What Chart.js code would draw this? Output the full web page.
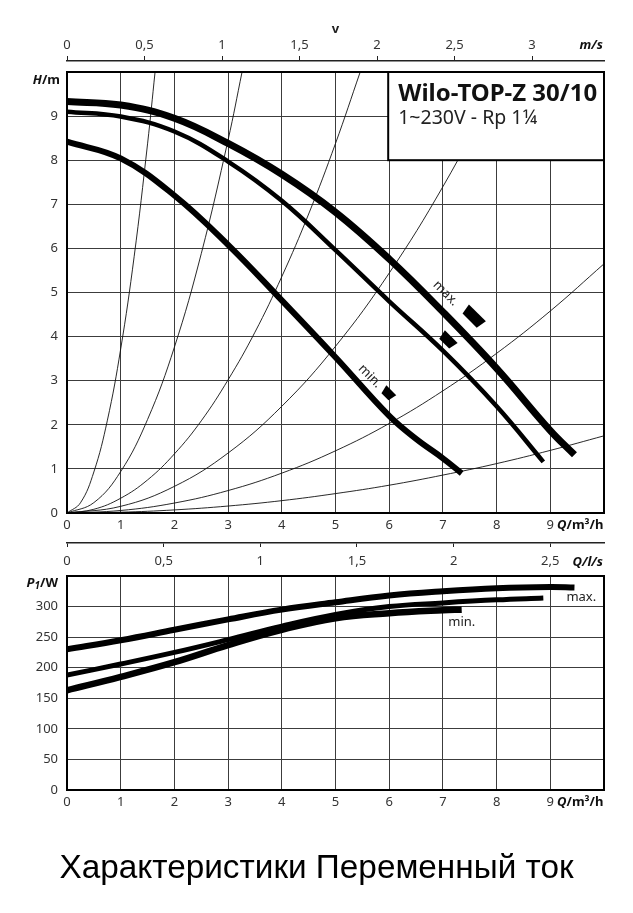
<!DOCTYPE html>
<html>
<head>
<meta charset="utf-8">
<script src="https://cdn.jsdelivr.net/npm/chart.js@4.4.0/dist/chart.umd.min.js"></script>
<style>
html,body{margin:0;padding:0;background:#fff;width:633px;height:913px;overflow:hidden;}
canvas{position:absolute;left:0;top:0;}
#title{position:absolute;left:0;top:850px;width:633px;text-align:center;font-family:"Liberation Sans",Arial,sans-serif;font-size:31px;line-height:34px;color:#000;white-space:nowrap;}
</style>
</head>
<body>
<canvas id="vAxis" width="633" height="913"></canvas>
<canvas id="hChart" width="633" height="913"></canvas>
<canvas id="lsAxis" width="633" height="913"></canvas>
<canvas id="pChart" width="633" height="913"></canvas>
<div id="title">Характеристики Переменный ток</div>
<script>
// ---------- data ----------
// Pump head curves, Q in m³/h, H in m
const flowMax = [0, 1, 2, 3, 4, 5, 6, 7, 8, 9, 9.45];
const headMax = [9.33, 9.25, 8.95, 8.38, 7.68, 6.82, 5.76, 4.56, 3.28, 1.87, 1.32];
const flowMid = [0, 1, 2, 3, 4, 5, 6, 7, 8, 8.87];
const headMid = [9.1, 8.99, 8.65, 7.97, 7.08, 5.96, 4.8, 3.68, 2.42, 1.16];
const flowMin = [0, 1, 2, 3, 4, 5, 6, 6.5, 7, 7.35];
const headMin = [8.42, 8.04, 7.2, 6.08, 4.82, 3.53, 2.2, 1.68, 1.24, 0.9];

// System (pipe) curves – thin lines
const sysFlowA = [0, 0.25, 0.5, 0.75, 1, 1.25, 1.5, 1.64];
const sysHeadA = [0, 0.23, 0.93, 2.09, 3.72, 5.81, 8.37, 10];
const sysFlowB = [0, 0.5, 1, 1.5, 2, 2.5, 3, 3.26];
const sysHeadB = [0, 0.235, 0.94, 2.12, 3.76, 5.88, 8.46, 10];
const sysFlowC = [0, 0.5, 1, 1.5, 2, 2.5, 3, 3.5, 4, 4.5, 5, 5.46];
const sysHeadC = [0, 0.084, 0.335, 0.75, 1.34, 2.09, 3.02, 4.1, 5.36, 6.78, 8.38, 10];
const sysFlowD = [0, 1, 2, 3, 4, 5, 6, 7, 8, 8.14];
const sysHeadD = [0, 0.151, 0.604, 1.36, 2.42, 3.78, 5.44, 7.4, 9.66, 10];
const sysFlowE = [0, 1, 2, 3, 4, 5, 6, 7, 8, 9, 10];
const sysHeadE = [0, 0.057, 0.226, 0.509, 0.904, 1.41, 2.03, 2.77, 3.62, 4.58, 5.65];
const sysFlowF = [0, 1, 2, 3, 4, 5, 6, 7, 8, 9, 10];
const sysHeadF = [0, 0.018, 0.07, 0.158, 0.28, 0.44, 0.63, 0.86, 1.12, 1.42, 1.75];

// Power input curves, P1 in W
const pFlowMax = [0, 1, 2, 3, 4, 5, 6, 7, 8, 9, 9.45];
const powerMax = [230, 245, 262, 279, 295, 307, 318, 325, 330, 332, 331];
const pFlowMid = [0, 1, 2, 3, 4, 5, 6, 7, 8, 8.87];
const powerMid = [188, 206, 225, 246, 268, 287, 300, 306, 311, 314];
const pFlowMin = [0, 1, 2, 3, 4, 5, 6, 7, 7.35];
const powerMin = [163, 185, 209, 237, 262, 281, 289, 294, 295];

// Axis ranges / tick labels
const flowAxisMax = 10;        // m³/h
const headAxisMax = 10;        // m
const powerAxisMax = 350;      // W
const velocityAxisMax = 3.464; // m/s at 10 m³/h
const litreAxisMax = 2.7778;   // l/s at 10 m³/h
const boxTitle = 'Wilo-TOP-Z 30/10';
const boxSubtitle = '1~230V - Rp 1¼';

// ---------- helpers ----------
const FONT = "'Noto Sans','Open Sans','DejaVu Sans',sans-serif";
const tickFont = {family: FONT, size: 13};
const tickColor = '#333';
const gridColor = '#3c3c3c';
const comma = v => String(Math.round(v * 100) / 100).replace('.', ',');
const pts = (xs, ys) => xs.map((x, i) => ({x: x, y: ys[i]}));

function thin(xs, ys) {
  return {data: pts(xs, ys), showLine: true, borderColor: '#111', borderWidth: 0.9,
    pointRadius: 0, tension: 0.4, order: 3};
}
function thick(xs, ys, w) {
  return {data: pts(xs, ys), showLine: true, borderColor: '#000', borderWidth: w,
    borderCapStyle: 'butt', pointRadius: 0, tension: 0.4, order: 1};
}
function rich(ctx, parts, x, y, align) {
  let w = 0;
  parts.forEach(p => { ctx.font = p.f; p.w = ctx.measureText(p.t).width; w += p.w; });
  let cx = align === 'right' ? x - w : x;
  ctx.textAlign = 'left';
  ctx.textBaseline = 'middle';
  parts.forEach(p => { ctx.font = p.f; ctx.fillText(p.t, cx, y + (p.dy || 0)); cx += p.w; });
}
const BI = "italic bold 13px " + FONT;
const B = "bold 13px " + FONT;

const framePlugin = {
  id: 'frame',
  afterDraw(chart) {
    const {ctx, chartArea: a} = chart;
    ctx.save();
    ctx.strokeStyle = '#000';
    ctx.lineWidth = 2;
    ctx.strokeRect(a.left, a.top, a.right - a.left, a.bottom - a.top);
    ctx.restore();
  }
};

const baseOpts = (padding) => ({
  responsive: false, animation: false, events: [],
  layout: {padding: padding},
  plugins: {legend: {display: false}, tooltip: {enabled: false}}
});

// ---------- v axis (m/s) ----------
new Chart(document.getElementById('vAxis'), {
  type: 'scatter',
  data: {datasets: []},
  options: Object.assign(baseOpts({top: 0, left: 67, right: 29, bottom: 913 - 64}), {
    scales: {
      x: {
        type: 'linear', position: 'top', min: 0, max: velocityAxisMax,
        ticks: {stepSize: 0.5, includeBounds: false, font: tickFont, color: tickColor, padding: 3,
          maxRotation: 0, autoSkip: false, callback: v => comma(v)},
        grid: {drawOnChartArea: false, drawTicks: true, tickLength: 5, color: '#222', lineWidth: 1},
        border: {display: true, color: '#222', width: 1.5},
        title: {display: true, text: 'v', color: '#222', font: {family: FONT, size: 13, weight: 'bold'},
          padding: {top: 21, bottom: 0}},
        afterFit: s => { s.height = 61; }
      },
      y: {display: false}
    }
  }),
  plugins: [{
    id: 'vunit',
    afterDraw(chart) {
      const ctx = chart.ctx;
      ctx.save(); ctx.fillStyle = '#111';
      rich(ctx, [{t: 'm/s', f: BI}], 603, 45, 'right');
      ctx.restore();
    }
  }]
});

// ---------- H-Q chart ----------
new Chart(document.getElementById('hChart'), {
  type: 'scatter',
  data: {datasets: [
    thin(sysFlowA, sysHeadA), thin(sysFlowB, sysHeadB), thin(sysFlowC, sysHeadC),
    thin(sysFlowD, sysHeadD), thin(sysFlowE, sysHeadE), thin(sysFlowF, sysHeadF),
    thick(flowMax, headMax, 7), thick(flowMid, headMid, 4.5), thick(flowMin, headMin, 6)
  ]},
  options: Object.assign(baseOpts({top: 72, left: 0, right: 29, bottom: 913 - 513 - 27}), {
    scales: {
      x: {
        type: 'linear', position: 'bottom', min: 0, max: flowAxisMax,
        ticks: {stepSize: 1, font: tickFont, color: tickColor, padding: 4, maxRotation: 0, autoSkip: false,
          callback: v => v === flowAxisMax ? '' : comma(v)},
        grid: {color: gridColor, lineWidth: 1, drawTicks: false},
        border: {color: '#000', width: 2},
        afterFit: s => { s.height = 27; }
      },
      y: {
        type: 'linear', min: 0, max: headAxisMax,
        ticks: {stepSize: 1, font: tickFont, color: tickColor, padding: 9,
          callback: v => v === headAxisMax ? '' : comma(v)},
        grid: {color: gridColor, lineWidth: 1, drawTicks: false},
        border: {color: '#000', width: 2},
        afterFit: s => { s.width = 67; }
      }
    }
  }),
  plugins: [framePlugin, {
    id: 'hDecor',
    afterDatasetsDraw(chart) {
      const {ctx, chartArea: a, scales: {x, y}} = chart;
      ctx.save();
      // info box
      const bx = x.getPixelForValue(6) - 1, by = a.top;
      const bw = a.right - bx, bh = y.getPixelForValue(8) - by;
      ctx.fillStyle = '#fff';
      ctx.fillRect(bx, by, bw, bh);
      ctx.strokeStyle = '#000'; ctx.lineWidth = 2;
      ctx.strokeRect(bx, by, bw, bh);
      ctx.fillStyle = '#111';
      ctx.textAlign = 'left'; ctx.textBaseline = 'alphabetic';
      ctx.font = "bold 22px " + FONT;
      let s1 = 22 * 199 / ctx.measureText(boxTitle).width;
      ctx.font = "bold " + s1.toFixed(2) + "px " + FONT;
      ctx.fillText(boxTitle, bx + 10, by + 29);
      ctx.font = "15px " + FONT;
      let s2 = 15 * 139 / ctx.measureText(boxSubtitle).width;
      ctx.font = s2.toFixed(2) + "px " + FONT;
      ctx.fillStyle = '#222';
      ctx.fillText(boxSubtitle, bx + 10, by + 52);

      // direction markers
      const mark = (q, h, len, wid) => {
        const px = x.getPixelForValue(q), py = y.getPixelForValue(h);
        ctx.save();
        ctx.translate(px, py);
        ctx.rotate(45 * Math.PI / 180);
        ctx.fillStyle = '#000';
        ctx.beginPath();
        ctx.moveTo(-len / 2, -wid / 2);
        ctx.lineTo(len / 2, -wid / 2);
        ctx.lineTo(len / 2 - 2, wid / 2);
        ctx.lineTo(-len / 2 + 2, wid / 2);
        ctx.closePath();
        ctx.fill();
        ctx.restore();
      };
      mark(7.57, 4.45, 24, 11);
      mark(7.09, 3.92, 18, 10);
      mark(5.98, 2.71, 14, 9);

      // max. / min. labels
      const lbl = (t, q, h) => {
        ctx.save();
        ctx.translate(x.getPixelForValue(q), y.getPixelForValue(h));
        ctx.rotate(45 * Math.PI / 180);
        ctx.font = "13px " + FONT;
        ctx.fillStyle = '#222';
        ctx.textAlign = 'center'; ctx.textBaseline = 'middle';
        ctx.fillText(t, 0, 0);
        ctx.restore();
      };
      lbl('max.', 7.05, 4.98);
      lbl('min.', 5.64, 3.1);
      ctx.restore();
    },
    afterDraw(chart) {
      const ctx = chart.ctx;
      ctx.save(); ctx.fillStyle = '#111';
      rich(ctx, [{t: 'H', f: BI}, {t: '/m', f: B}], 60, 80, 'right');
      rich(ctx, [{t: 'Q', f: BI}, {t: '/m³/h', f: B}], 557, 525, 'left');
      ctx.restore();
    }
  }]
});

// ---------- Q l/s axis ----------
new Chart(document.getElementById('lsAxis'), {
  type: 'scatter',
  data: {datasets: []},
  options: Object.assign(baseOpts({top: 540, left: 67, right: 29, bottom: 913 - 543 - 30}), {
    scales: {
      x: {
        type: 'linear', position: 'bottom', min: 0, max: litreAxisMax,
        ticks: {stepSize: 0.5, includeBounds: false, font: tickFont, color: tickColor, padding: 6,
          maxRotation: 0, autoSkip: false, callback: v => comma(v)},
        grid: {drawOnChartArea: false, drawTicks: true, tickLength: 4, color: '#222', lineWidth: 1},
        border: {display: true, color: '#222', width: 1.5},
        afterFit: s => { s.height = 30; }
      },
      y: {display: false}
    }
  }),
  plugins: [{
    id: 'lsunit',
    afterDraw(chart) {
      const ctx = chart.ctx;
      ctx.save(); ctx.fillStyle = '#111';
      rich(ctx, [{t: 'Q', f: BI}, {t: '/l/s', f: BI}], 603, 562, 'right');
      ctx.restore();
    }
  }]
});

// ---------- P1-Q chart ----------
new Chart(document.getElementById('pChart'), {
  type: 'scatter',
  data: {datasets: [
    thick(pFlowMax, powerMax, 6), thick(pFlowMid, powerMid, 5), thick(pFlowMin, powerMin, 6.5)
  ]},
  options: Object.assign(baseOpts({top: 576, left: 0, right: 29, bottom: 913 - 790 - 30}), {
    scales: {
      x: {
        type: 'linear', position: 'bottom', min: 0, max: flowAxisMax,
        ticks: {stepSize: 1, font: tickFont, color: tickColor, padding: 4, maxRotation: 0, autoSkip: false,
          callback: v => v === flowAxisMax ? '' : comma(v)},
        grid: {color: gridColor, lineWidth: 1, drawTicks: false},
        border: {color: '#000', width: 2},
        afterFit: s => { s.height = 30; }
      },
      y: {
        type: 'linear', min: 0, max: powerAxisMax,
        ticks: {stepSize: 50, font: tickFont, color: tickColor, padding: 9,
          callback: v => v === powerAxisMax ? '' : comma(v)},
        grid: {color: gridColor, lineWidth: 1, drawTicks: false},
        border: {color: '#000', width: 2},
        afterFit: s => { s.width = 67; }
      }
    }
  }),
  plugins: [framePlugin, {
    id: 'pDecor',
    afterDraw(chart) {
      const {ctx, scales: {x, y}} = chart;
      ctx.save(); ctx.fillStyle = '#111';
      rich(ctx, [{t: 'P', f: BI}, {t: '1', f: "italic bold 10px " + FONT, dy: 3}, {t: '/W', f: B}], 58, 583, 'right');
      rich(ctx, [{t: 'Q', f: BI}, {t: '/m³/h', f: B}], 557, 802, 'left');
      ctx.font = "13px " + FONT; ctx.fillStyle = '#222';
      ctx.textAlign = 'left'; ctx.textBaseline = 'middle';
      ctx.fillText('max.', x.getPixelForValue(9.3), y.getPixelForValue(315));
      ctx.fillText('min.', x.getPixelForValue(7.1), y.getPixelForValue(274));
      ctx.restore();
    }
  }]
});

// fit the caption width to the reference
(function () {
  const t = document.getElementById('title');
  const m = document.createElement('canvas').getContext('2d');
  m.font = "31px 'Liberation Sans', Arial, sans-serif";
  const w = m.measureText(t.textContent).width;
  t.style.fontSize = (31 * 514 / w).toFixed(2) + 'px';
})();
</script>
</body>
</html>
